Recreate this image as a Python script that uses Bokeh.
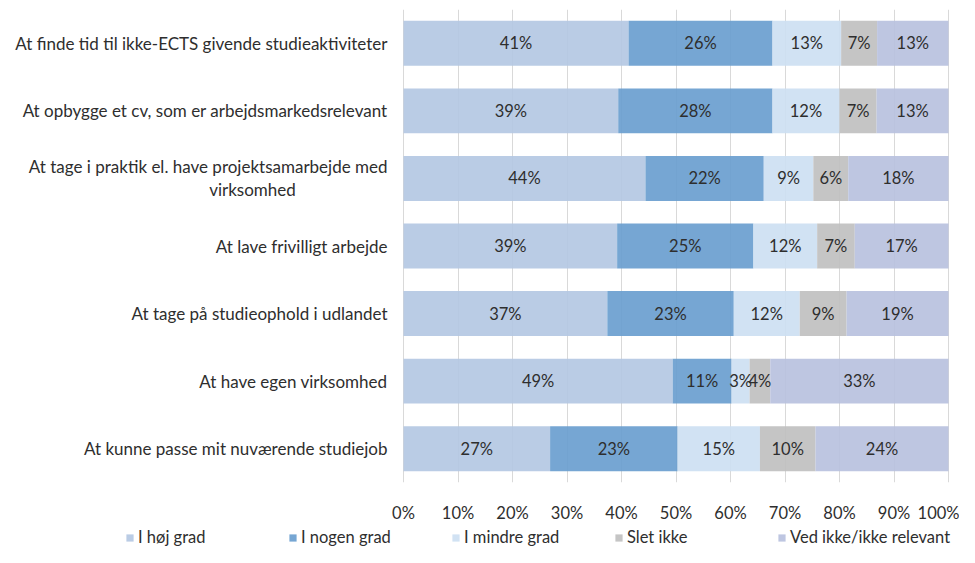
from bokeh.plotting import figure
from bokeh.layouts import column
from bokeh.models import (ColumnDataSource, FactorRange, Range1d, FixedTicker,
                          PrintfTickFormatter, LabelSet, Legend, LegendItem)
from bokeh.embed import file_html
from bokeh.resources import INLINE
from bokeh.core.properties import value

# ---------------- data ----------------
categories = [
    "At finde tid til ikke-ECTS givende studieaktiviteter",
    "At opbygge et cv, som er arbejdsmarkedsrelevant",
    "At tage i praktik el. have projektsamarbejde med\nvirksomhed",
    "At lave frivilligt arbejde",
    "At tage på studieophold i udlandet",
    "At have egen virksomhed",
    "At kunne passe mit nuværende studiejob",
]
series_names = ["I høj grad", "I nogen grad", "I mindre grad", "Slet ikke",
                "Ved ikke/ikke relevant"]
hoj_grad = [41.3, 39.4, 44.4, 39.2, 37.4, 49.4, 26.9]
nogen_grad = [26.4, 28.3, 21.7, 25.0, 23.2, 10.8, 23.4]
mindre_grad = [12.6, 12.3, 9.1, 11.7, 12.1, 3.3, 15.1]
slet_ikke = [6.6, 6.8, 6.4, 6.9, 8.6, 3.8, 10.2]
ved_ikke = [13.1, 13.2, 18.4, 17.2, 18.7, 32.7, 24.4]
x_ticks = [0, 10, 20, 30, 40, 50, 60, 70, 80, 90, 100]

colors = ["#b4c8e3", "#6a9ecf", "#cde0f2", "#c0c0c0", "#b8c1de"]
FONT = "Lato"
TEXT_COLOR = "#2e2e2e"

# layout (pixels)
FIG_W = 959
LABEL_AREA = 403          # space left of 0%
BAR_AREA = 545            # width of 0%..100%
RIGHT_PAD = FIG_W - LABEL_AREA - BAR_AREA

series = [hoj_grad, nogen_grad, mindre_grad, slet_ikke, ved_ikke]
keys = ["s0", "s1", "s2", "s3", "s4"]

data = {"cat": categories}
for k, s in zip(keys, series):
    data[k] = s
source = ColumnDataSource(data)

x_start = -100.0 * LABEL_AREA / BAR_AREA
x_end = 100.0 + 100.0 * RIGHT_PAD / BAR_AREA
p = figure(width=FIG_W, height=527, output_backend="svg", toolbar_location=None,
           y_range=FactorRange(*reversed(categories)),
           x_range=Range1d(x_start, x_end),
           min_border_left=0, min_border_right=0,
           min_border_top=9, min_border_bottom=45)
p.outline_line_color = None
p.background_fill_color = "white"

renderers = p.hbar_stack(keys, y="cat", height=0.665, color=colors,
                         fill_alpha=0.92, line_color=None, source=source)

# grid
p.ygrid.grid_line_color = None
p.xgrid.grid_line_color = "#d9d9d9"
p.xgrid.grid_line_width = 1
p.xgrid.ticker = FixedTicker(ticks=x_ticks)

# x axis
p.xaxis.ticker = FixedTicker(ticks=x_ticks)
p.xaxis.formatter = PrintfTickFormatter(format="%d%%")
p.xaxis.axis_line_color = None
p.xaxis.major_tick_line_color = None
p.xaxis.minor_tick_line_color = None
p.xaxis.major_label_standoff = 14
p.xaxis.major_label_text_font = FONT
p.xaxis.major_label_text_font_size = "16.5px"
p.xaxis.major_label_text_color = TEXT_COLOR
p.yaxis.visible = False

# category labels
cx, cy, ct, cxo, cyo, ca = [], [], [], [], [], []
for cat in categories:
    lines = cat.split("\n")
    if len(lines) == 1:
        cx.append(0); cy.append(cat); ct.append(cat)
        cxo.append(-16); cyo.append(0); ca.append("right")
    else:
        cx.append(0); cy.append(cat); ct.append(lines[0])
        cxo.append(-16); cyo.append(12); ca.append("right")
        cx.append(0); cy.append(cat); ct.append(lines[1])
        cxo.append(-151); cyo.append(-11); ca.append("center")
cat_src = ColumnDataSource(dict(x=cx, y=cy, t=ct, xo=cxo, yo=cyo, a=ca))
p.add_layout(LabelSet(x="x", y="y", text="t", source=cat_src,
                      x_offset="xo", y_offset="yo", text_align="a",
                      text_baseline="middle",
                      text_font=value(FONT), text_font_size="17px",
                      text_color=TEXT_COLOR))

# percentage labels inside the bars
lx, ly, lt = [], [], []
for i, cat in enumerate(categories):
    left = 0.0
    for s in series:
        v = s[i]
        lx.append(left + v / 2)
        ly.append(cat)
        lt.append(f"{int(v + 0.5)}%")
        left += v
pct_src = ColumnDataSource(dict(x=lx, y=ly, t=lt))
p.add_layout(LabelSet(x="x", y="y", text="t", source=pct_src,
                      text_align="center", text_baseline="middle",
                      text_font=value(FONT), text_font_size="16.5px",
                      text_color=TEXT_COLOR))

# legend in its own strip below the chart
lg = figure(width=FIG_W, height=20, output_backend="svg", toolbar_location=None,
            x_range=Range1d(0, 1), y_range=Range1d(0, 1),
            min_border_left=0, min_border_right=0, min_border_top=0,
            min_border_bottom=0)
lg.axis.visible = False
lg.grid.visible = False
lg.outline_line_color = None
leg_renderers = [lg.hbar(y=[-1], left=[0], right=[0], height=0, color=c,
                         fill_alpha=0.92, line_color=None) for c in colors]
items = [LegendItem(label=n, renderers=[r]) for n, r in zip(series_names, leg_renderers)]
legend = Legend(items=items, orientation="horizontal", location=(125, 0),
                label_width=150, glyph_width=9, glyph_height=9,
                label_height=14, label_standoff=4, spacing=0, padding=0,
                margin=0, border_line_alpha=0, background_fill_alpha=0,
                label_text_font=FONT, label_text_font_size="16.5px",
                label_text_color=TEXT_COLOR)
lg.add_layout(legend, "center")

layout = column(p, lg, spacing=0)
open("out.html", "w").write(file_html(layout, INLINE))
